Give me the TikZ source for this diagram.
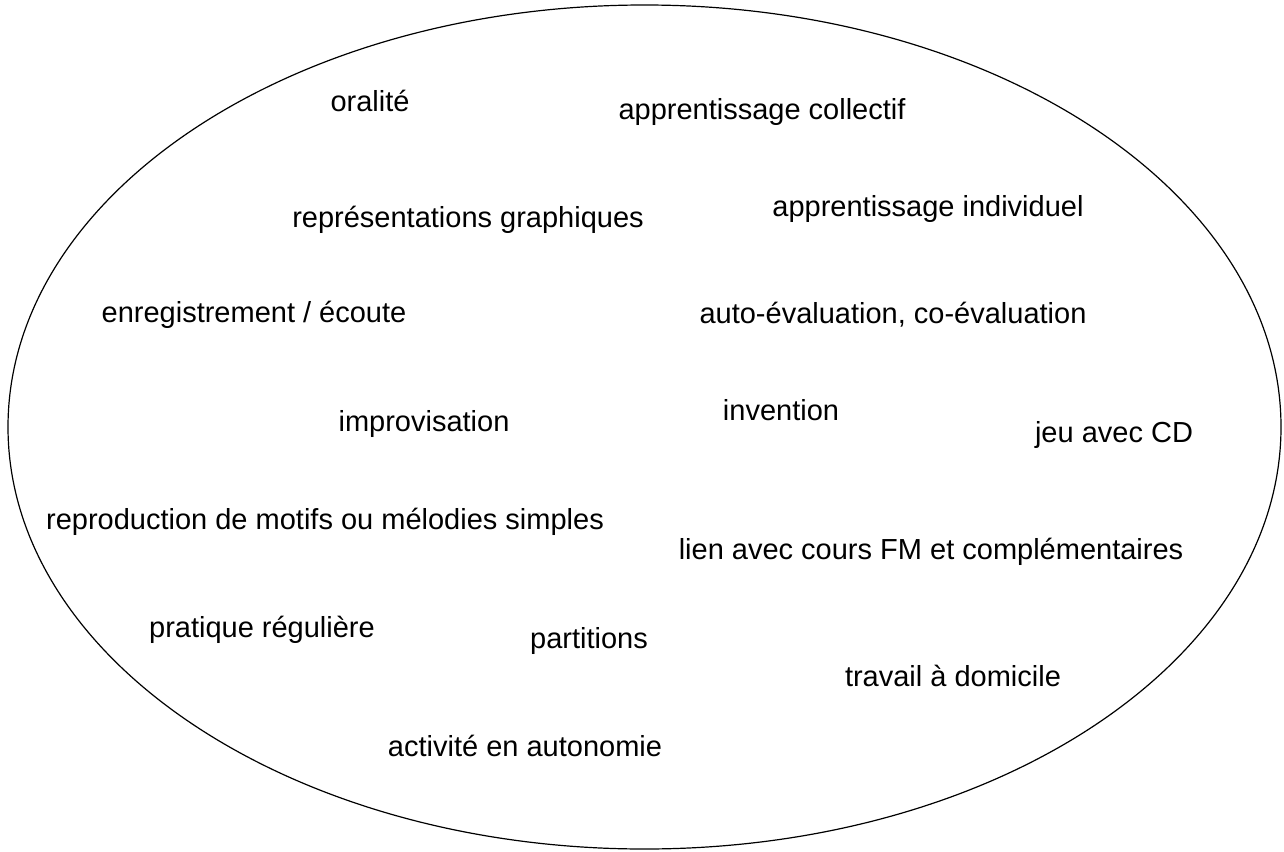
\documentclass[tikz,border=0pt]{standalone}
\usepackage{fontspec}
\setmainfont{Liberation Sans}
\begin{document}
\begin{tikzpicture}[x=1pt,y=-1pt,
  lbl/.style={inner sep=0pt,font=\fontsize{29}{34}\selectfont}]
\useasboundingbox (0,0) rectangle (1284,851);
\draw[line width=1.2pt] (644.5,427) ellipse [x radius=636.5, y radius=422];
\node[lbl] (oralite) at (370,101) {oralité};
\node[lbl] (collectif) at (762,112) {apprentissage collectif};
\node[lbl] (graph) at (468,220) {représentations graphiques};
\node[lbl] (indiv) at (928,209) {apprentissage individuel};
\node[lbl] (enreg) at (254,315) {enregistrement / écoute};
\node[lbl] (eval) at (893,315) {auto-évaluation, co-évaluation};
\node[lbl] (impro) at (424,424) {improvisation};
\node[lbl] (invention) at (781,410) {invention};
\node[lbl] (jeu) at (1114,435) {jeu avec CD};
\node[lbl] (repro) at (325,522) {reproduction de motifs ou mélodies simples};
\node[lbl] (lien) at (931,552) {lien avec cours FM et complémentaires};
\node[lbl] (pratique) at (262,630) {pratique régulière};
\node[lbl] (partitions) at (589,641) {partitions};
\node[lbl] (travail) at (953,676) {travail à domicile};
\node[lbl] (autonomie) at (525,746) {activité en autonomie};
\end{tikzpicture}
\end{document}
